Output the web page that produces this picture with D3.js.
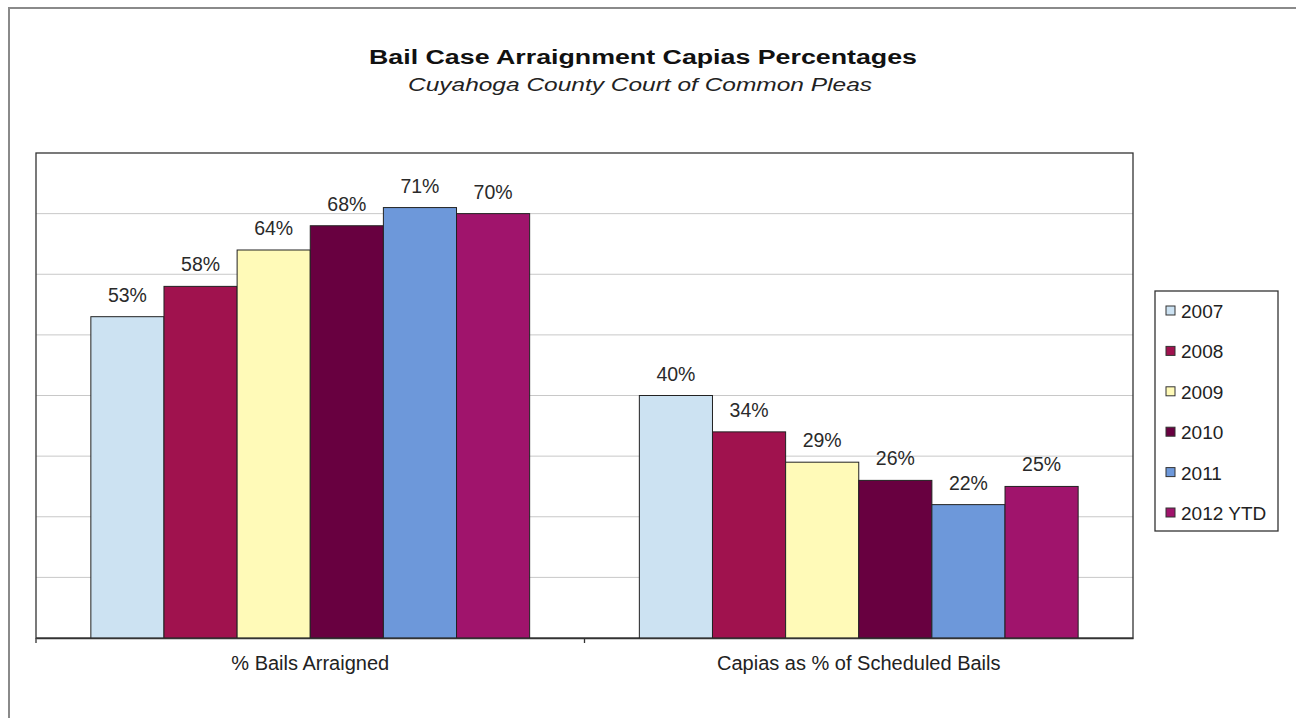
<!DOCTYPE html>
<html>
<head>
<meta charset="utf-8">
<script src="https://cdn.jsdelivr.net/npm/d3@7"></script>
<style>
  html, body { margin: 0; padding: 0; background: #fff; }
  svg { display: block; font-family: "Liberation Sans", Arial, sans-serif; }
</style>
</head>
<body>
<svg id="chart" width="1296" height="718"></svg>
<script>
const categories = ["% Bails Arraigned", "Capias as % of Scheduled Bails"];
const seriesNames = ["2007", "2008", "2009", "2010", "2011", "2012 YTD"];
const values2007 = [53, 40];
const values2008 = [58, 34];
const values2009 = [64, 29];
const values2010 = [68, 26];
const values2011 = [71, 22];
const values2012 = [70, 25];
const seriesColors = ["#CCE2F2", "#A0124E", "#FFFAB8", "#680040", "#6D98DA", "#A0146C"];
const yTicks = [0, 10, 20, 30, 40, 50, 60, 70, 80];
const titleText = "Bail Case Arraignment Capias Percentages";
const subtitleText = "Cuyahoga County Court of Common Pleas";

const seriesValues = [values2007, values2008, values2009, values2010, values2011, values2012];
const data = categories.map((c, ci) => ({
  category: c,
  bars: seriesNames.map((s, si) => ({ series: s, value: seriesValues[si][ci], color: seriesColors[si] }))
}));

const svg = d3.select("#chart");

// outer frame
svg.append("path")
  .attr("d", "M9,718 L9,8 L1296,8")
  .attr("fill", "none").attr("stroke", "#8a8a8a").attr("stroke-width", 2);

// titles
svg.append("text")
  .attr("x", 643).attr("y", 64)
  .attr("text-anchor", "middle")
  .attr("font-size", 20).attr("font-weight", "bold").attr("fill", "#111")
  .attr("textLength", 548).attr("lengthAdjust", "spacingAndGlyphs")
  .text(titleText);
svg.append("text")
  .attr("x", 640).attr("y", 91)
  .attr("text-anchor", "middle")
  .attr("font-size", 18).attr("font-style", "italic").attr("fill", "#222")
  .attr("textLength", 464).attr("lengthAdjust", "spacingAndGlyphs")
  .text(subtitleText);

const plot = { left: 36, right: 1133, top: 153, bottom: 638 };

const x0 = d3.scaleBand()
  .domain(categories)
  .range([plot.left, plot.right])
  .paddingInner(0).paddingOuter(0);

const x1 = d3.scaleBand()
  .domain(seriesNames)
  .range([0, x0.bandwidth()])
  .paddingInner(0)
  .paddingOuter(0.75);

const y = d3.scaleLinear().domain([0, 80]).range([plot.bottom, plot.top]);

// gridlines
svg.append("g")
  .selectAll("line")
  .data(yTicks.filter(t => t > 0 && t < 80))
  .join("line")
  .attr("x1", plot.left).attr("x2", plot.right)
  .attr("y1", d => y(d)).attr("y2", d => y(d))
  .attr("stroke", "#c8c8c8").attr("stroke-width", 1);

// plot border
svg.append("rect")
  .attr("x", plot.left).attr("y", plot.top)
  .attr("width", plot.right - plot.left).attr("height", plot.bottom - plot.top)
  .attr("fill", "none").attr("stroke", "#333").attr("stroke-width", 1.3);

// bars
const groups = svg.append("g").selectAll("g")
  .data(data).join("g")
  .attr("transform", d => `translate(${x0(d.category)},0)`);

groups.selectAll("rect")
  .data(d => d.bars).join("rect")
  .attr("x", d => x1(d.series))
  .attr("y", d => y(d.value))
  .attr("width", x1.bandwidth())
  .attr("height", d => y(0) - y(d.value))
  .attr("fill", d => d.color)
  .attr("stroke", "#222").attr("stroke-width", 1);

groups.selectAll("text")
  .data(d => d.bars).join("text")
  .attr("x", d => x1(d.series) + x1.bandwidth() / 2)
  .attr("y", d => y(d.value) - 15)
  .attr("text-anchor", "middle")
  .attr("font-size", 19.5).attr("fill", "#2a2a2a")
  .text(d => d.value + "%");

// x axis
const xAxis = d3.axisBottom(x0).tickSize(0).tickPadding(18);
const gx = svg.append("g")
  .attr("transform", `translate(0,${plot.bottom})`)
  .call(xAxis);
gx.select(".domain").attr("stroke", "#333").attr("stroke-width", 1.5);
gx.selectAll(".tick text")
  .attr("font-size", 20).attr("fill", "#222")
  .attr("font-family", "'Liberation Sans', Arial, sans-serif");

// category boundary ticks
svg.append("g").selectAll("line")
  .data([categories[0], categories[1]])
  .join("line")
  .attr("x1", d => x0(d)).attr("x2", d => x0(d))
  .attr("y1", plot.bottom).attr("y2", plot.bottom + 5)
  .attr("stroke", "#333").attr("stroke-width", 1.3);

// legend
const legend = svg.append("g").attr("transform", "translate(1155,291)");
legend.append("rect")
  .attr("width", 123).attr("height", 240)
  .attr("fill", "#fff").attr("stroke", "#333").attr("stroke-width", 1.3);
const li = legend.selectAll("g.item")
  .data(seriesNames).join("g")
  .attr("class", "item")
  .attr("transform", (d, i) => `translate(11,${20 + i * 40.4})`);
li.append("rect")
  .attr("x", 0).attr("y", -5)
  .attr("width", 9).attr("height", 9)
  .attr("fill", (d, i) => seriesColors[i])
  .attr("stroke", "#333").attr("stroke-width", 1);
li.append("text")
  .attr("x", 15).attr("y", 7)
  .attr("font-size", 19).attr("fill", "#222")
  .text(d => d);
</script>
</body>
</html>
